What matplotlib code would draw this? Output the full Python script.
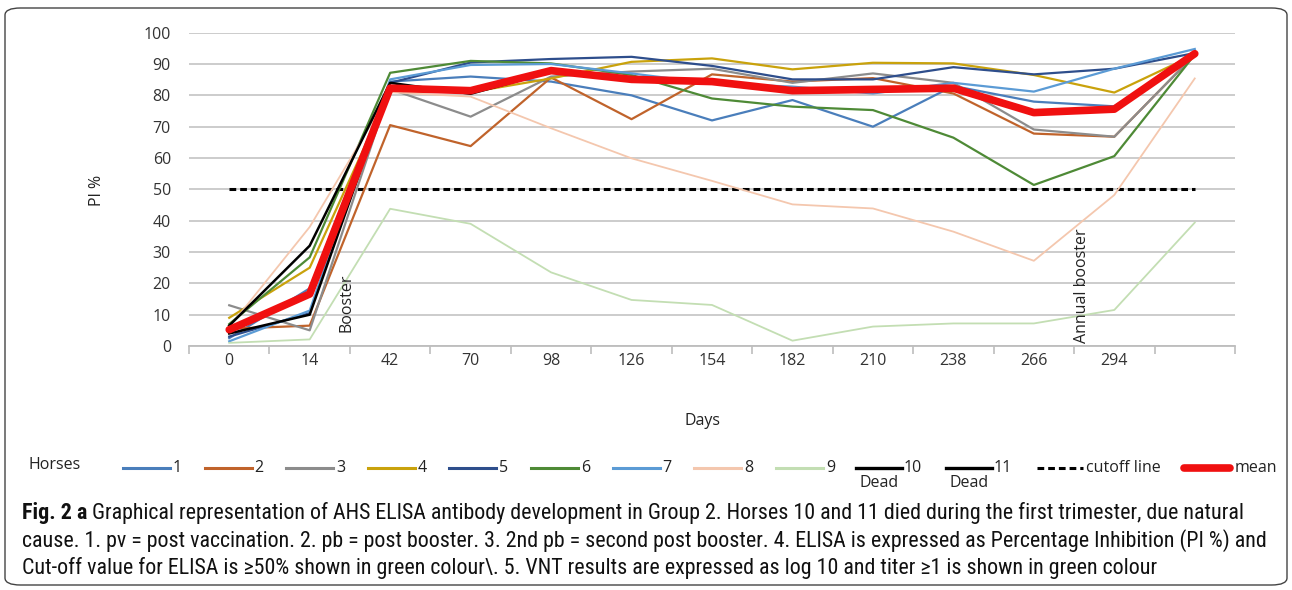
import matplotlib
matplotlib.use('Agg')
import matplotlib.pyplot as plt
from matplotlib.lines import Line2D
from matplotlib.patches import FancyBboxPatch

plt.rcParams['font.family'] = ['Open Sans', 'DejaVu Sans']

# categorias do eixo x (a ultima sem rotulo)
dias = ['0', '14', '42', '70', '98', '126', '154', '182', '210', '238', '266', '294', '']

# PI % por cavalo
h1 = [2.5, 18.4, 84.4, 86.0, 84.4, 80.0, 72.0, 78.5, 70.0, 83.0, 78.0, 76.5, 93.0]
h2 = [5.5, 6.5, 70.5, 63.8, 85.7, 72.4, 86.7, 84.4, 85.5, 80.6, 67.8, 66.8, 93.0]
h3 = [13.0, 5.0, 82.0, 73.2, 86.0, 87.6, 88.5, 84.0, 87.0, 84.0, 69.1, 66.8, 93.0]
h4 = [9.0, 25.0, 81.5, 81.0, 85.4, 90.7, 91.8, 88.3, 90.4, 90.2, 86.5, 80.9, 93.0]
h5 = [3.0, 10.5, 84.0, 90.5, 91.6, 92.3, 89.4, 85.1, 85.1, 89.0, 86.7, 88.5, 93.5]
h6 = [7.0, 28.3, 87.2, 91.0, 90.2, 86.5, 79.0, 76.4, 75.3, 66.5, 51.4, 60.6, 93.0]
h7 = [1.5, 11.3, 85.1, 89.7, 90.0, 87.0, 83.8, 82.8, 80.6, 84.0, 81.2, 88.5, 94.8]
h8 = [6.0, 38.0, 81.0, 79.6, 69.5, 59.9, 52.7, 45.2, 43.9, 36.5, 27.2, 48.2, 85.4]
h9 = [1.0, 2.1, 43.8, 39.0, 23.5, 14.7, 13.1, 1.7, 6.2, 7.2, 7.2, 11.5, 39.4]
h10 = [6.5, 32.0, 84.0, 80.5, 87.5]
h11 = [4.0, 10.0, 83.0]
media = [5.2, 16.6, 82.3, 81.5, 87.9, 85.1, 84.4, 81.5, 81.9, 82.3, 74.5, 75.6, 93.3]
cutoff = [50] * 13

cavalos = [h1, h2, h3, h4, h5, h6, h7, h8, h9]
nomes = ['1', '2', '3', '4', '5', '6', '7', '8', '9']
cores = ['#4A7EBB', '#C0632B', '#8C8C8C', '#C9A20C', '#2E4E8C',
         '#4E8A36', '#5B9BD5', '#F4C7AE', '#C3DEB3']

W, H = 1292, 590
fs_graf = 11.5
cor_txt = '#222222'
fig = plt.figure(figsize=(W / 100, H / 100), dpi=100)
ax = fig.add_axes([189 / W, 1 - 346 / H, (1235 - 189) / W, (346 - 32.7) / H])

x = list(range(len(dias)))
for v, c in zip(cavalos, cores):
    lw = 1.3 if c in ('#F4C7AE', '#C3DEB3') else 1.6
    ax.plot(x[:len(v)], v, color=c, lw=lw, zorder=3)
ax.plot(x[:len(h10)], h10, color='black', lw=1.8, zorder=3)
ax.plot(x[:len(h11)], h11, color='black', lw=1.8, zorder=3)
ax.plot(x, cutoff, color='black', lw=2.2, ls=(0, (2.2, 1.3)), zorder=2)
ax.plot(x, media, color='#F01010', lw=5.5, zorder=4, solid_capstyle='round')

ax.set_xlim(-0.5, 12.5)
ax.set_ylim(0, 100)
ax.set_yticks(range(0, 101, 10))
ax.set_xticks(x)
ax.set_xticklabels(dias)
ax.set_xticks([i - 0.5 for i in range(14)], minor=True)
ax.grid(axis='y', color='#C8C8C8', lw=1.3, zorder=0)
for s in ['left', 'right', 'top']:
    ax.spines[s].set_visible(False)
ax.spines['bottom'].set_color('#BDBDBD')
ax.spines['bottom'].set_linewidth(1.3)
ax.tick_params(axis='y', length=0, pad=13, labelsize=fs_graf, labelcolor='#333333')
ax.tick_params(axis='x', which='major', length=0, pad=5, labelsize=fs_graf, labelcolor='#333333')
ax.tick_params(axis='x', which='minor', length=6, width=1.2, color='#BDBDBD')

ax.text(1.46, 4.5, 'Booster', rotation=90, ha='center', va='bottom', fontsize=fs_graf, color=cor_txt)
ax.text(10.6, 1.0, 'Annual booster', rotation=90, ha='center', va='bottom', fontsize=fs_graf, color=cor_txt)

fig.text(97 / W, 1 - 190 / H, 'PI %', rotation=90, ha='center', va='center', fontsize=fs_graf, color=cor_txt)
fig.text(703 / W, 1 - 421 / H, 'Days', ha='center', va='center', fontsize=fs_graf, color=cor_txt)

# legenda desenhada a mao
ly = 1 - 468 / H
fig.text(28 / W, 1 - 465 / H, 'Horses', ha='left', va='center', fontsize=fs_graf, color=cor_txt)
x0 = 123
for i, (nome, c) in enumerate(zip(nomes, cores)):
    xs = x0 + i * 81.6
    fig.add_artist(Line2D([xs / W, (xs + 47) / W], [ly, ly], color=c, lw=2.2))
    fig.text((xs + 50) / W, ly, nome, ha='left', va='center', fontsize=fs_graf, color=cor_txt)
for xs, nome in [(856, '10'), (946, '11')]:
    fig.add_artist(Line2D([xs / W, (xs + 46) / W], [ly, ly], color='black', lw=2.4))
    fig.text((xs + 48) / W, ly, nome, ha='left', va='center', fontsize=fs_graf, color=cor_txt)
    fig.text((xs + 23) / W, 1 - 483 / H, 'Dead', ha='center', va='center', fontsize=fs_graf, color=cor_txt)
fig.add_artist(Line2D([1037 / W, 1083 / W], [ly, ly], color='black', lw=2.2, ls=(0, (2.2, 1.3))))
fig.text(1086 / W, ly, 'cutoff line', ha='left', va='center', fontsize=fs_graf, color=cor_txt)
fig.add_artist(Line2D([1184 / W, 1230 / W], [ly, ly], color='#F01010', lw=5.5, solid_capstyle='round'))
fig.text(1235 / W, ly, 'mean', ha='left', va='center', fontsize=fs_graf, color=cor_txt)

# moldura arredondada
fig.add_artist(FancyBboxPatch((5 / W, 5 / H), 1282 / W, 577 / H,
                              boxstyle='round,pad=0,rounding_size=0.012',
                              transform=fig.transFigure, fill=False,
                              edgecolor='#444444', lw=1.0))

# legenda da figura
cap_font = ['Roboto Condensed', 'Barlow Semi Condensed', 'DejaVu Sans']
linhas_cap = [
    ' Graphical representation of AHS ELISA antibody development in Group 2. Horses 10 and 11 died during the first trimester, due natural',
    'cause. 1. pv = post vaccination. 2. pb = post booster. 3. 2nd pb = second post booster. 4. ELISA is expressed as Percentage Inhibition (PI %) and',
    'Cut-off value for ELISA is \u226550% shown in green colour\\. 5. VNT results are expressed as log 10 and titer \u22651 is shown in green colour',
]
cap_y = [513, 541, 568]
fs = 13
renderer = fig.canvas.get_renderer()
tb = fig.text(22 / W, 1 - cap_y[0] / H, 'Fig. 2 a', ha='left', va='center',
              fontsize=fs, fontweight='bold', family=cap_font, color='#111111')
t1 = fig.text(tb.get_window_extent(renderer).x1 / W, 1 - cap_y[0] / H, linhas_cap[0],
              ha='left', va='center', fontsize=fs, family=cap_font, color='#111111')
outras = [fig.text(22 / W, 1 - yy / H, txt, ha='left', va='center', fontsize=fs,
                   family=cap_font, color='#111111')
          for txt, yy in zip(linhas_cap[1:], cap_y[1:])]
# ajusta o tamanho para caber na largura da moldura
fim = max(t1.get_window_extent(renderer).x1, outras[0].get_window_extent(renderer).x1)
fs = fs * (1264 - 22) / (fim - 22)
for t in [tb, t1] + outras:
    t.set_fontsize(fs)
t1.set_x(tb.get_window_extent(renderer).x1 / W)

fig.savefig('out.png', dpi=100)
